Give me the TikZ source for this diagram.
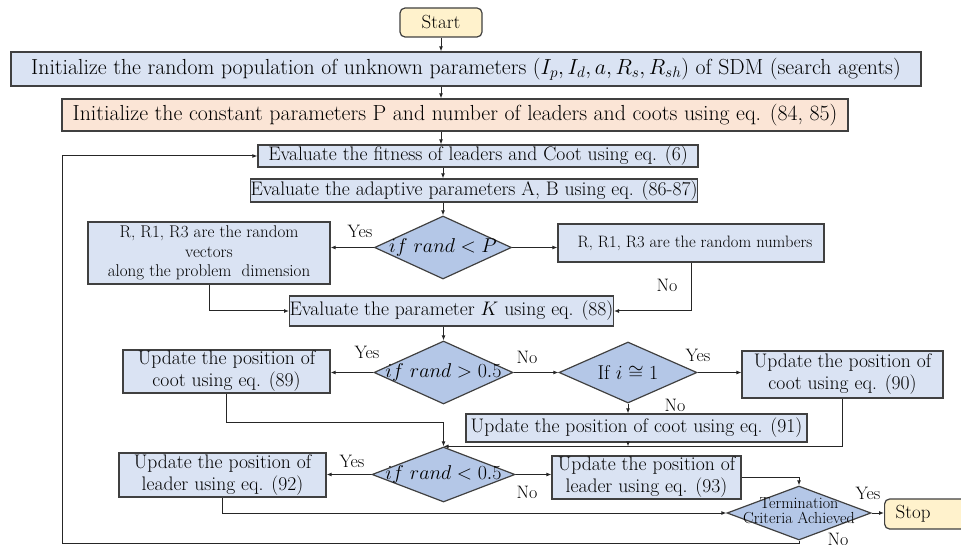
\RequirePackage{fix-cm}
\documentclass[tikz,border=0pt]{standalone}
\usepackage{fontspec}
\usetikzlibrary{shapes.geometric,arrows.meta,calc}
\definecolor{boxblue}{HTML}{DAE3F3}
\definecolor{diablue}{HTML}{B4C7E7}
\definecolor{peach}{HTML}{FBE5D6}
\definecolor{termyellow}{HTML}{FFF2CC}
\definecolor{edge}{HTML}{404040}
\begin{document}
\begin{tikzpicture}[x=1pt,y=-1pt,
  box/.style={draw=edge,fill=boxblue,line width=1.2pt,inner sep=0pt,align=center,
    font=\fontsize{19.6}{22}\selectfont},
  dia/.style={diamond,draw=edge,fill=diablue,line width=1.2pt,inner sep=0pt,
    font=\fontsize{20}{22}\selectfont},
  term/.style={draw=edge,fill=termyellow,rounded corners=5pt,line width=1.2pt,inner sep=0pt,
    font=\fontsize{19}{22}\selectfont},
  lbl/.style={inner sep=0pt,font=\fontsize{18}{21}\selectfont},
  arr/.style={draw=black!85,line width=1pt,-{Latex[length=5pt,width=4pt]}},
  conn/.style={draw=black!85,line width=1pt}]
\useasboundingbox (0,0) rectangle (961,545);

% start and initialisation
\node[term,minimum width=82pt,minimum height=29pt] (start) at (441,22.5) {Start};
\node[box,minimum width=910pt,minimum height=34pt,font=\fontsize{21.8}{24}\selectfont] (b1) at (466,69)
  {Initialize the random population of unknown parameters $(I_p, I_d, a, R_s, R_{sh})$ of SDM (search agents)};
\node[box,fill=peach,minimum width=786pt,minimum height=32pt,font=\fontsize{21.8}{24}\selectfont] (b2) at (455,115)
  {Initialize the constant parameters P and number of leaders and coots using eq. (84, 85)};
\node[box,minimum width=440pt,minimum height=22pt] (b3) at (478,156)
  {Evaluate the fitness of leaders and Coot using eq. (6)};
\node[box,minimum width=446pt,minimum height=23pt] (b4) at (474,190.5)
  {Evaluate the adaptive parameters A, B using eq. (86-87)};

% first decision
\node[dia,minimum width=137pt,minimum height=63pt] (d1) at (443,247.5) {\makebox[0pt]{$if\ rand < P$}};
\node[box,minimum width=242pt,minimum height=62pt,font=\fontsize{17}{19.5}\selectfont] (bl1) at (209,253)
  {R, R1, R3 are the random\\vectors\\along the problem\ \ dimension};
\node[box,minimum width=266pt,minimum height=38pt,font=\fontsize{16.5}{18}\selectfont] (br1) at (691,243)
  {\hspace*{8pt}R, R1, R3 are the random numbers};
\node[box,minimum width=323pt,minimum height=30pt] (b5) at (451.5,311)
  {Evaluate the parameter $K$ using eq. (88)};

% coot update
\node[dia,minimum width=139pt,minimum height=63pt] (d2) at (443.5,372.5) {\makebox[0pt]{$if\ rand > 0.5$}};
\node[box,minimum width=207pt,minimum height=43pt] (b89) at (226.5,371.5)
  {Update the position of\\coot using eq. (89)};
\node[dia,minimum width=138pt,minimum height=61pt] (d3) at (628,372.5) {\makebox[0pt]{If $i \cong 1$}};
\node[box,minimum width=201pt,minimum height=47pt] (b90) at (842.5,374.5)
  {Update the position of\\coot using eq. (90)};
\node[box,minimum width=341pt,minimum height=28pt] (b91) at (636.5,428)
  {Update the position of coot using eq. (91)};

% leader update
\node[dia,minimum width=143pt,minimum height=55pt] (d4) at (443.5,474.5) {\makebox[0pt]{$if\ rand < 0.5$}};
\node[box,minimum width=207pt,minimum height=44pt] (b92) at (222.5,475)
  {Update the position of\\leader using eq. (92)};
\node[box,minimum width=189pt,minimum height=43pt] (b93) at (646.5,477.5)
  {Update the position of\\leader using eq. (93)};

% termination
\node[dia,minimum width=144pt,minimum height=54pt,font=\fontsize{16}{16}\selectfont] (d5) at (799,513)
  {\makebox[0pt]{\begin{tabular}{@{}c@{}}Termination\\[-1pt]Criteria Achieved\end{tabular}}};
\node[term,anchor=west,minimum height=30pt,inner xsep=11pt,text width=60pt,align=left] (stop) at (884,514) {Stop};
\coordinate (fb) at (62,543);

% connectors
\draw[arr] (start.south) -- (start.south |- b1.north);
\draw[arr] (start.south |- b1.south) -- (start.south |- b2.north);
\draw[arr] (start.south |- b2.south) -- (start.south |- b3.north);
\draw[arr] (d1.north |- b3.south) -- (d1.north |- b4.north);
\draw[arr] (d1.north |- b4.south) -- (d1.north);
\draw[arr] (d1.west) -- (d1.west -| bl1.east);
\draw[arr] (d1.east) -- (d1.east -| br1.west);
\draw[arr] (br1.south) |- (b5.east);
\draw[arr] (bl1.south) |- (b5.west);
\draw[arr] (d2.north |- b5.south) -- (d2.north);
\draw[arr] (d2.west) -- (d2.west -| b89.east);
\draw[arr] (d2.east) -- (d3.west);
\draw[arr] (d3.east) -- (d3.east -| b90.west);
\draw[arr] (d3.south) -- (d3.south |- b91.north);
\draw[arr] (d3.south |- b91.south) -- (d3.south |- d4.north);
\draw[arr] (b90.south) |- (d4.north);
\draw[arr] (b89.south) -- ++(0,29) -| (d4.north);
\draw[arr] (d4.west) -- (d4.west -| b92.east);
\draw[arr] (d4.east) -- (d4.east -| b93.west);
\draw[arr] (b93.east) -| (d5.north);
\draw[arr] (b92.south) |- (d5.west);
\draw[arr] (d5.east) -- (stop.west |- d5.east);
\draw[arr] (d5.south) |- (fb) |- (b3.west);

% branch labels
\node[lbl] (y1) at (360,231) {Yes};
\node[lbl] (n1) at (667,285) {No};
\node[lbl] (y2) at (367,352) {Yes};
\node[lbl] (n2) at (527,357) {No};
\node[lbl] (y3) at (698,355) {Yes};
\node[lbl] (n3) at (675,405) {No};
\node[lbl] (y4) at (352,461) {Yes};
\node[lbl] (n4) at (527,492) {No};
\node[lbl] (y5) at (868,493) {Yes};
\node[lbl,anchor=north] (n5) at (838,533) {No};
\end{tikzpicture}
\end{document}
